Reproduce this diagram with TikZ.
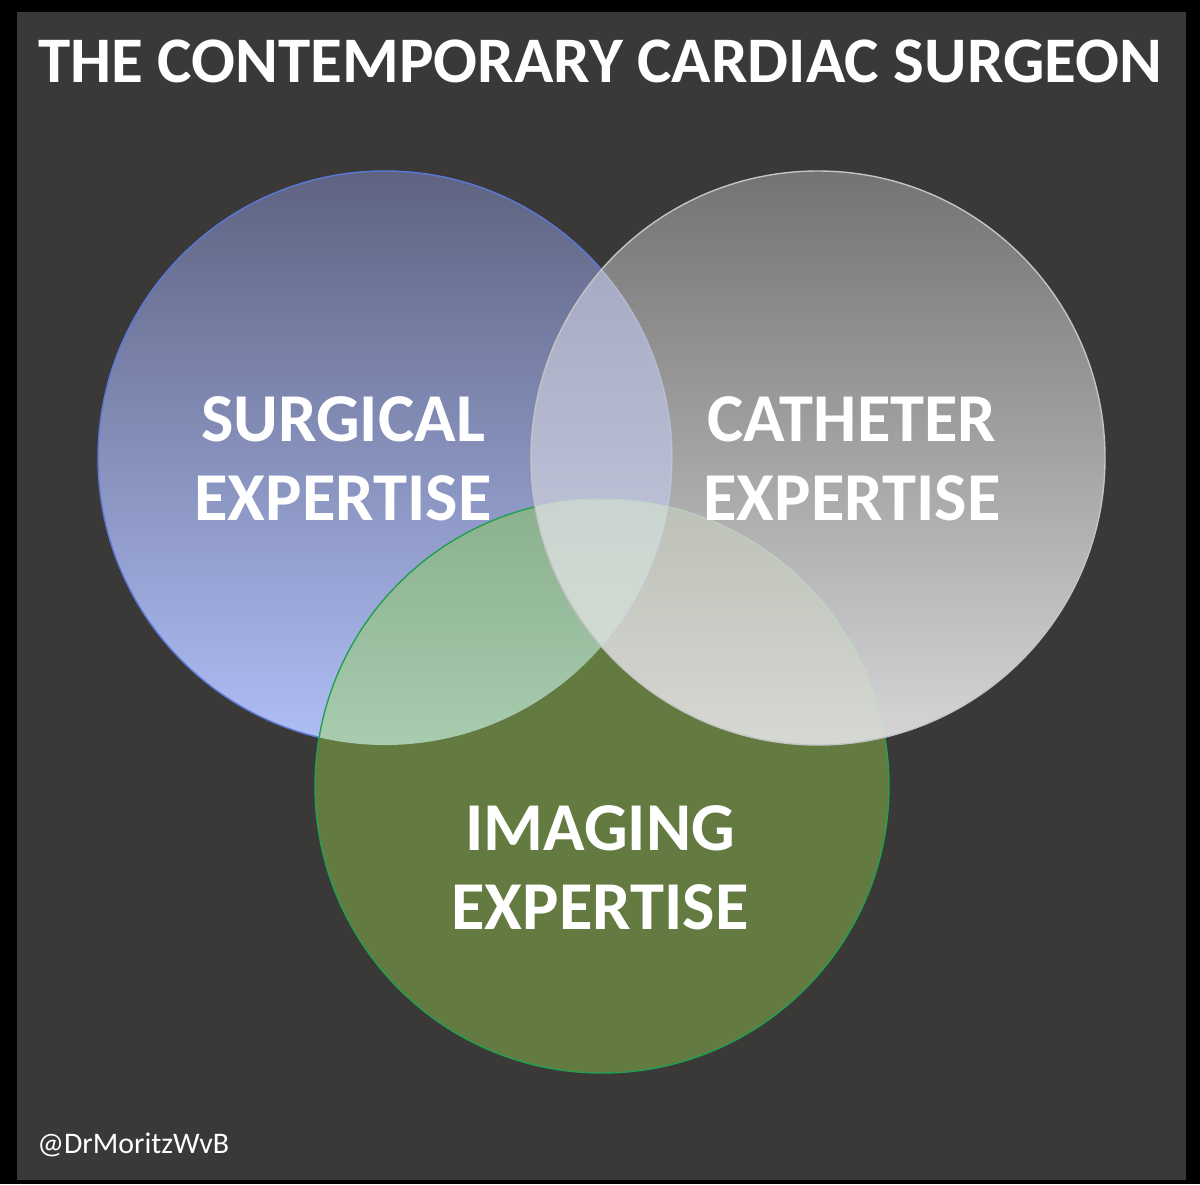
\documentclass[tikz,border=0pt]{standalone}
\usepackage{fontspec}
\setmainfont{Carlito}

\definecolor{bgdark}{HTML}{3B3838}
\definecolor{surgtop}{HTML}{5E6381}
\definecolor{surgbot}{HTML}{AFBEF6}
\definecolor{surgline}{HTML}{5A78D8}
\definecolor{cathtop}{HTML}{747272}
\definecolor{cathbot}{HTML}{D6D6D8}
\definecolor{cathline}{HTML}{C4C4C4}
\definecolor{imagfill}{HTML}{637A40}
\definecolor{imagline}{HTML}{22A052}

\tikzset{
  label/.style={text=white, font=\bfseries\fontsize{39}{45}\selectfont, align=center},
}

\begin{document}
\begin{tikzpicture}[x=0.02cm, y=-0.02cm]
      % frame
      \fill[black] (0,0) rectangle (1200,1184);
      \fill[bgdark] (17,12) rectangle (1186,1180);
      \useasboundingbox (0,0) rectangle (1200,1184);

      \coordinate (surg) at (385,458);
      \coordinate (cath) at (818,458);
      \coordinate (imag) at (602,786);
      \def\rad{287}

      % surgical circle
      \shade[top color=surgtop, bottom color=surgbot] (surg) circle (\rad);
      \draw[surgline, line width=0.8pt] (surg) circle (\rad);

      % imaging circle
      \fill[imagfill] (imag) circle (\rad);
      \begin{scope}
        \clip (surg) circle (\rad);
        \clip (imag) circle (\rad);
        \shade[top color={rgb,255:red,138;green,176;blue,142}, bottom color={rgb,255:red,168;green,204;blue,174}] (0,500) rectangle (1200,745);
      \end{scope}
      \draw[imagline, line width=0.8pt] (imag) circle (\rad);

      % catheter circle
      \shade[top color=cathtop, bottom color=cathbot] (cath) circle (\rad);
      \begin{scope}
        \clip (cath) circle (\rad);
        \begin{scope}
          \clip (surg) circle (\rad);
          \shade[top color={rgb,255:red,158;green,163;blue,190}, bottom color={rgb,255:red,208;green,211;blue,228}] (0,171) rectangle (1200,745);
        \end{scope}
        \begin{scope}
          \clip (imag) circle (\rad);
          \shade[top color={rgb,255:red,188;green,192;blue,182}, bottom color={rgb,255:red,214;green,216;blue,210}] (0,500) rectangle (1200,745);
          \clip (surg) circle (\rad);
          \shade[top color={rgb,255:red,202;green,212;blue,208}, bottom color={rgb,255:red,216;green,224;blue,210}] (0,500) rectangle (1200,745);
        \end{scope}
        \draw[imagline!30!white, opacity=0.5, line width=0.8pt] (imag) circle (\rad);
        \draw[surgline!30!white, opacity=0.4, line width=0.8pt] (surg) circle (\rad);
      \end{scope}
      \draw[cathline, line width=0.8pt] (cath) circle (\rad);

      % texts
      \node[text=white, font=\bfseries\fontsize{37}{44}\selectfont, anchor=base] (title) at (600,82) {THE CONTEMPORARY CARDIAC SURGEON};
      \node[label] (surgtext) at (343,459) {SURGICAL\\EXPERTISE};
      \node[label] (cathtext) at (852,459) {CATHETER\\EXPERTISE};
      \node[label] (imagtext) at (600,868) {IMAGING\\EXPERTISE};
      \node[text=white, font=\fontsize{17}{20}\selectfont, anchor=base west, inner sep=0pt] (handle) at (37,1153) {@DrMoritzWvB};
    \end{tikzpicture}
\end{document}
